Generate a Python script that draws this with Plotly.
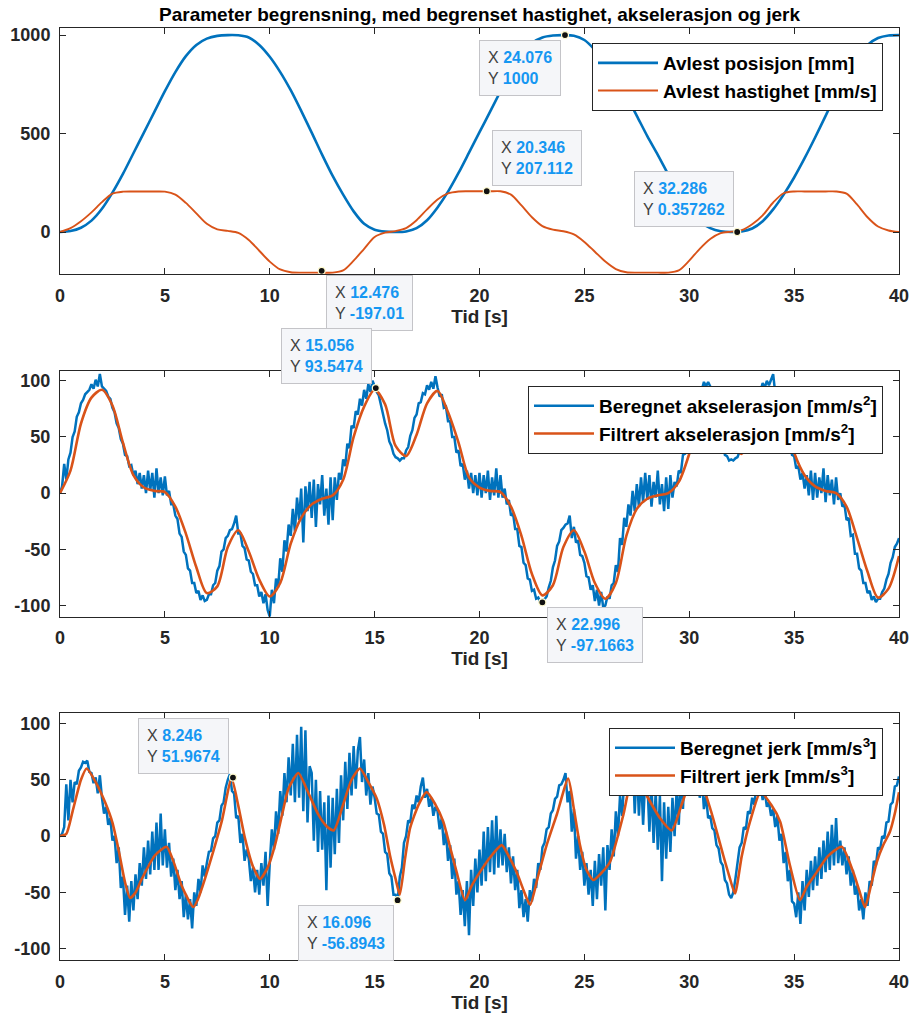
import numpy as np
import plotly.graph_objects as go

# ---------------- data ----------------
t_half = np.arange(0, 40.001, 0.5)             # 0.5 s sample grid
t_tenth = np.round(np.arange(0, 40.001, 0.1), 1)  # 0.1 s sample grid

position_mm = [0, 5, 22, 58, 118, 200, 295, 400, 505, 610,
               715, 812, 893, 950, 982, 996, 1000, 999, 988, 950,
               890, 812, 720, 615, 505, 392, 285, 190, 105, 42,
               12, 2, 0, 3, 20, 60, 125, 205, 300, 403,
               507, 610, 715, 815, 905, 960, 988, 998, 1000, 997,
               975, 925, 860, 775, 690, 590, 487, 392, 292, 195,
               112, 52, 20, 4, 0, 3, 18, 55, 115, 190,
               277, 375, 480, 590, 700, 805, 890, 950, 985, 998, 1000]

velocity_mms = [0, 20, 55, 100, 152, 195, 205, 206, 206, 206,
                205, 190, 148, 95, 42, 14, 6, -4, -40, -95,
                -150, -190, -204, -206, -206, -206, -206, -195, -145, -85,
                -25, -3, 5, 20, 60, 115, 165, 196, 206, 207,
                207, 207, 207, 190, 135, 75, 30, 12, 4, -12,
                -50, -100, -150, -188, -204, -206, -206, -206, -206, -195,
                -145, -85, -35, -5, 2, 10, 40, 85, 150, 197,
                206, 206, 206, 206, 206, 195, 140, 75, 28, 8, 0]

acc_filtered = [0, 20, 62, 85, 92, 78, 45, 16, 5, 2,
                1, -12, -36, -66, -89, -83, -48, -33, -52, -77,
                -92, -80, -45, -22, -10, -5, -2, 12, 50, 77,
                92, 79, 42, 33, 52, 80, 91, 72, 45, 14,
                5, 2, 1, -12, -38, -72, -91, -82, -48, -33,
                -52, -80, -94, -80, -38, -14, -5, -2, 0, 10,
                35, 70, 92, 80, 45, 35, 55, 82, 93, 68,
                36, 16, 6, 2, 0, -12, -40, -70, -93, -85, -56]

acc_raw_rows = [
    [0, 6, 26, 12, 30, 36, 50, 55, 68, 72],
    [80, 83, 88, 90, 92, 97, 93, 101, 95, 106],
    [95, 93, 91, 86, 84, 76, 72, 62, 58, 48],
    [44, 34, 33, 24, 25, 16, 20, 8, 18, 4],
    [16, 0, 20, 2, 18, -4, 22, 0, 14, -2],
    [15, -2, 2, -10, -10, -20, -23, -36, -39, -52],
    [-55, -67, -69, -80, -80, -89, -87, -95, -91, -96],
    [-95, -90, -90, -82, -80, -69, -65, -52, -50, -40],
    [-38, -33, -32, -27, -20, -36, -36, -47, -49, -59],
    [-60, -70, -72, -82, -82, -92, -88, -98, -90, -104],
    [-110, -86, -98, -76, -84, -58, -70, -42, -52, -28],
    [-38, -14, -34, -4, -24, 4, -44, 6, -16, 10],
    [-22, 12, -30, 8, -10, 16, -20, 4, -28, 14],
    [-24, 14, -6, 18, 12, 30, 24, 44, 40, 60],
    [58, 73, 70, 84, 78, 92, 84, 97, 90, 100],
    [94, 90, 87, 78, 72, 62, 56, 46, 42, 35],
    [32, 31, 29, 31, 31, 38, 41, 51, 56, 67],
    [70, 80, 81, 89, 88, 96, 92, 99, 93, 104],
    [94, 86, 88, 76, 77, 64, 64, 50, 50, 36],
    [38, 24, 26, 12, 20, 4, 18, 0, 16, -2],
    [18, -4, 16, 0, 20, -6, 14, -2, 22, -4],
    [16, -4, 4, -10, -6, -20, -18, -32, -32, -47],
    [-48, -62, -64, -76, -77, -87, -86, -94, -93, -97],
    [-97, -94, -92, -84, -78, -66, -60, -47, -43, -33],
    [-31, -28, -27, -20, -40, -30, -44, -42, -55, -56],
    [-62, -74, -75, -86, -82, -96, -86, -100, -88, -102],
    [-100, -92, -94, -82, -80, -64, -70, -40, -46, -22],
    [-30, -10, -20, 2, -16, 8, -12, 14, -8, 18],
    [-6, 16, -12, 10, -4, 20, -10, 8, -16, 14],
    [-14, 16, -4, 10, 6, 20, 18, 34, 35, 52],
    [54, 68, 71, 83, 84, 93, 92, 99, 95, 99],
    [95, 86, 83, 70, 64, 50, 45, 34, 33, 29],
    [30, 29, 31, 32, 38, 42, 51, 57, 67, 72],
    [77, 86, 86, 94, 91, 98, 94, 100, 96, 101],
    [106, 89, 88, 78, 75, 63, 59, 47, 44, 34],
    [33, 22, 24, 12, 18, 4, 16, -2, 20, -6],
    [18, -4, 14, 0, 22, -8, 16, -2, 12, -10],
    [14, -6, 0, -12, -10, -24, -22, -38, -37, -54],
    [-54, -67, -69, -80, -80, -89, -87, -95, -92, -97],
    [-94, -94, -88, -85, -77, -72, -62, -57, -48, -45],
]
acc_raw_last = [-40]
acc_raw = [v for row in acc_raw_rows for v in row] + acc_raw_last

jerk_raw_rows = [
    [0, 2, 8, 46, 14, 50, 30, 48, 46, 58],
    [61, 66, 65, 67, 57, 56, 47, 52, 38, 54],
    [34, 20, 26, 10, 16, -4, 0, -24, -10, -46],
    [-36, -70, -44, -76, -40, -66, -34, -56, -24, -44],
    [-10, -38, -4, -34, 4, -30, 12, -30, 20, -26],
    [6, -28, -6, -36, -20, -48, -30, -56, -40, -72],
    [-52, -74, -56, -82, -50, -62, -38, -50, -26, -36],
    [-24, -14, -13, -2, 0, 12, 14, 27, 30, 43],
    [50, 55, 40, 38, 16, 18, -6, 2, -22, -12],
    [-20, -40, -28, -50, -30, -52, -24, -44, -14, -62],
    [-24, 6, -12, 22, 2, 40, 18, 56, 30, 70],
    [36, 82, 30, 90, 34, 97, 22, 94, 12, 62],
    [56, -4, 50, -14, 40, -12, 30, -48, 36, -28],
    [34, -16, 42, -6, 54, 14, 66, 24, 74, 36],
    [80, 42, 76, 88, 48, 68, 36, 56, 28, 44],
    [34, 20, 19, 4, 2, -14, -16, -33, -36, -52],
    [-52, -57, -36, -28, -6, 0, 14, 12, 28, 24],
    [36, 30, 44, 52, 34, 42, 26, 34, 18, 26],
    [22, 6, 16, -8, 4, -22, -8, -38, -20, -52],
    [-40, -70, -48, -80, -40, -88, -30, -62, -20, -50],
    [-12, -44, 4, -40, 8, -32, 14, -34, 18, -28],
    [6, -26, 2, -32, -10, -42, -18, -48, -30, -64],
    [-48, -72, -56, -76, -48, -58, -38, -46, -24, -30],
    [-10, -6, 6, 8, 20, 23, 33, 35, 45, 46],
    [50, 56, 30, 40, 4, 24, -20, 0, -30, -14],
    [-44, -24, -52, -30, -62, -22, -56, -16, -44, -10],
    [-66, -8, -30, 6, -18, 22, 0, 36, 18, 50],
    [36, 70, 40, 76, 20, 64, 18, 56, 10, 50],
    [50, 4, 46, -6, 40, -12, 36, -40, 30, -20],
    [26, -14, 34, 0, 42, 10, 56, 24, 66, 40],
    [76, 48, 72, 44, 64, 34, 52, 24, 36, 16],
    [18, 7, 5, -8, -11, -23, -26, -39, -42, -52],
    [-55, -50, -38, -26, -10, -6, 8, 6, 22, 20],
    [34, 28, 44, 38, 46, 32, 40, 26, 30, 18],
    [24, 8, 18, -4, 2, -24, -14, -40, -30, -58],
    [-60, -72, -50, -78, -40, -66, -30, -54, -22, -48],
    [-18, -44, -10, -38, -4, -32, 4, -30, 10, -26],
    [16, -24, -4, -26, -10, -34, -18, -44, -30, -52],
    [-44, -66, -56, -74, -50, -62, -40, -44, -22, -26],
    [-10, -12, 0, -2, 12, 13, 28, 30, 44, 45],
]
jerk_raw_last = [53]
jerk_raw = [v for row in jerk_raw_rows for v in row] + jerk_raw_last

t_jerk_filt = [0, 0.3, 0.6, 1.0, 1.27, 1.7, 2.15, 2.5, 2.78, 3.1, 3.34, 3.6, 3.9, 4.53,
               5.08, 5.4, 5.8, 6.36, 6.6, 6.91, 7.3, 7.71, 8.18, 8.5, 8.82, 9.2, 9.54,
               9.9, 10.25, 10.6, 10.89, 11.36, 11.8, 12.32, 12.7, 13.05, 13.5, 13.9, 14.3,
               14.7, 15.1, 15.45, 15.73, 16.0, 16.2, 16.45, 16.69, 17.1, 17.48, 17.9, 18.27,
               18.6, 18.91, 19.31, 19.6, 20.02, 20.5, 21.06, 21.4, 21.77, 22.1, 22.41, 22.8,
               23.2, 23.7, 24.23, 24.5, 24.79, 25.1, 25.43, 25.8, 26.22, 26.86, 27.35, 27.97,
               28.6, 29.16, 29.64, 30.3, 30.99, 31.62, 31.9, 32.18, 32.5, 32.9, 33.4, 33.9,
               34.33, 34.8, 35.28, 35.6, 36.08, 36.6, 37.27, 37.82, 38.1, 38.38, 38.65, 38.94,
               39.25, 39.57, 39.8, 40.0]
jerk_filtered = [0, 2, 22, 50, 60, 48, 30, 12, -11, -41, -55, -50, -38, -17,
                 -9.5, -22, -44, -63, -55, -38, -14, 13, 51, 27, -2, -27, -38,
                 -28, -8, 20, 42, 56, 40, 19, 9, 5, 28, 50, 60,
                 48, 33.5, 10, -17, -38, -52, -20, 7, 28, 39, 28, 13,
                 -10, -32, -57, -45, -32, -19, -8, -18, -32, -48, -61, -35,
                 -8, 20, 51, 24, -8, -30, -39, -33, -23, 19, 57, 36,
                 16, 5, 28, 60, 25, -17, -35, -51, -18, 13, 39, 28,
                 13, -26, -57, -45, -32, -18, -9.5, -32, -48, -63, -45, -23,
                 -8, 4, 20, 39]

# data tips (value pairs as shown in the reference)
tip_panel = [1, 1, 1, 1, 2, 2, 3, 3]
tip_x = [24.076, 20.346, 32.286, 12.476, 15.056, 22.996, 8.246, 16.096]
tip_y = [1000, 207.112, 0.357262, -197.01, 93.5474, -97.1663, 51.9674, -56.8943]
tip_xlabel = ["24.076", "20.346", "32.286", "12.476", "15.056", "22.996", "8.246", "16.096"]
tip_ylabel = ["1000", "207.112", "0.357262", "-197.01", "93.5474", "-97.1663", "51.9674", "-56.8943"]

x_ticks = [0, 5, 10, 15, 20, 25, 30, 35, 40]
y1_ticks = [0, 500, 1000]
y23_ticks = [-100, -50, 0, 50, 100]

# ---------------- styling ----------------
BLUE = '#0072BD'
ORANGE = '#D95319'
AX = '#262626'
FONT = 'Liberation Sans, Arial, sans-serif'
W, H = 916, 1017

fig = go.Figure()

fig.add_trace(go.Scatter(x=t_half, y=position_mm, mode='lines', name='Avlest posisjon [mm]',
                         line=dict(color=BLUE, width=2.6, shape='spline', smoothing=0.8),
                         xaxis='x', yaxis='y', legend='legend'))
fig.add_trace(go.Scatter(x=t_half, y=velocity_mms, mode='lines', name='Avlest hastighet [mm/s]',
                         line=dict(color=ORANGE, width=1.9, shape='spline', smoothing=0.8),
                         xaxis='x', yaxis='y', legend='legend'))

fig.add_trace(go.Scatter(x=t_tenth, y=acc_raw, mode='lines',
                         name='Beregnet akselerasjon [mm/s<sup>2</sup>]',
                         line=dict(color=BLUE, width=2.5),
                         xaxis='x2', yaxis='y2', legend='legend2'))
fig.add_trace(go.Scatter(x=t_half, y=acc_filtered, mode='lines',
                         name='Filtrert akselerasjon [mm/s<sup>2</sup>]',
                         line=dict(color=ORANGE, width=2.6, shape='spline', smoothing=0.8),
                         xaxis='x2', yaxis='y2', legend='legend2'))

fig.add_trace(go.Scatter(x=t_tenth, y=jerk_raw, mode='lines',
                         name='Beregnet jerk [mm/s<sup>3</sup>]',
                         line=dict(color=BLUE, width=2.5),
                         xaxis='x3', yaxis='y3', legend='legend3'))
fig.add_trace(go.Scatter(x=t_jerk_filt, y=jerk_filtered, mode='lines',
                         name='Filtrert jerk [mm/s<sup>3</sup>]',
                         line=dict(color=ORANGE, width=2.6, shape='spline', smoothing=0.6),
                         xaxis='x3', yaxis='y3', legend='legend3'))

# data-tip markers
for p in (1, 2, 3):
    xs = [x for x, q in zip(tip_x, tip_panel) if q == p]
    ys = [y for y, q in zip(tip_y, tip_panel) if q == p]
    suffix = '' if p == 1 else str(p)
    fig.add_trace(go.Scatter(x=xs, y=ys, mode='markers', showlegend=False, cliponaxis=False,
                             marker=dict(color='#111111', size=7,
                                         line=dict(color='#fffbd0', width=1.2)),
                             xaxis='x' + suffix, yaxis='y' + suffix))

# data-tip boxes: offsets (pixels) of the box centre from the tip point
tip_offsets = [(-45, 33), (50, -33), (-53, -33), (48, 32),
               (-49, -32), (53, 33), (-49, -32), (-52, 33)]
LBL = '#404040'
VAL = '#1597f2'
for p, x, y, xl, yl, (ox, oy) in zip(tip_panel, tip_x, tip_y, tip_xlabel, tip_ylabel, tip_offsets):
    suffix = '' if p == 1 else str(p)
    txt = (f"<span style='color:{LBL}'>X</span> <b><span style='color:{VAL}'>{xl}</span></b><br>"
           f"<span style='color:{LBL}'>Y</span> <b><span style='color:{VAL}'>{yl}</span></b>")
    fig.add_annotation(x=x, y=y, xref='x' + suffix, yref='y' + suffix, text=txt,
                       showarrow=True, arrowcolor='rgba(0,0,0,0)', arrowwidth=0.1,
                       ax=ox, ay=oy, align='left',
                       font=dict(family=FONT, size=16, color=LBL),
                       bgcolor='#f5f6f9', bordercolor='#c4c4c8', borderwidth=1, borderpad=8)

xdom = [60 / W, 899 / W]
def ydom(top, bottom):
    return [1 - bottom / H, 1 - top / H]

tickfont = dict(family=FONT, size=18, color=AX, weight='bold')
base_axis = dict(showline=True, linecolor=AX, linewidth=1, mirror='ticks', ticks='inside',
                 ticklen=6, tickwidth=1, tickcolor=AX, showgrid=False, zeroline=False,
                 tickfont=tickfont, automargin=False)

def xaxis(anchor):
    return dict(base_axis, domain=xdom, anchor=anchor, range=[0, 40],
                tickmode='array', tickvals=x_ticks, ticktext=[str(v) for v in x_ticks],
                ticklabelstandoff=5,
                title=dict(text='Tid [s]', font=dict(family=FONT, size=19, color=AX, weight='bold'),
                           standoff=2))

def yaxis(anchor, dom, rng, ticks):
    return dict(base_axis, domain=dom, anchor=anchor, range=rng, tickmode='array',
                tickvals=ticks, ticktext=[str(v) for v in ticks], ticklabelstandoff=5)

legend_style = dict(xanchor='right', yanchor='top', bgcolor='white', bordercolor=AX, borderwidth=1,
                    font=dict(family=FONT, size=19, color='black', weight='bold'),
                    tracegroupgap=0, itemwidth=60)

fig.update_layout(
    width=W, height=H,
    margin=dict(l=0, r=0, t=0, b=0, autoexpand=False),
    paper_bgcolor='white', plot_bgcolor='white',
    title=dict(text='Parameter begrensning, med begrenset hastighet, akselerasjon og jerk',
               x=479.5 / W, xanchor='center', y=1 - 14 / H, yanchor='middle', automargin=False,
               font=dict(family=FONT, size=19, color='black', weight='bold')),
    xaxis=xaxis('y'), yaxis=yaxis('x', ydom(28, 274), [-213, 1036], y1_ticks),
    xaxis2=xaxis('y2'), yaxis2=yaxis('x2', ydom(370.7, 616.7), [-110, 109], y23_ticks),
    xaxis3=xaxis('y3'), yaxis3=yaxis('x3', ydom(713.3, 960), [-110, 109], y23_ticks),
    legend=dict(legend_style, x=883 / W, y=1 - 43 / H),
    legend2=dict(legend_style, x=883 / W, y=1 - 386 / H),
    legend3=dict(legend_style, x=883 / W, y=1 - 728 / H),
    showlegend=True,
)

fig.write_html("out.html", config={'displayModeBar': False},
               post_script="document.body.style.margin='0px';document.body.style.padding='0px';")
